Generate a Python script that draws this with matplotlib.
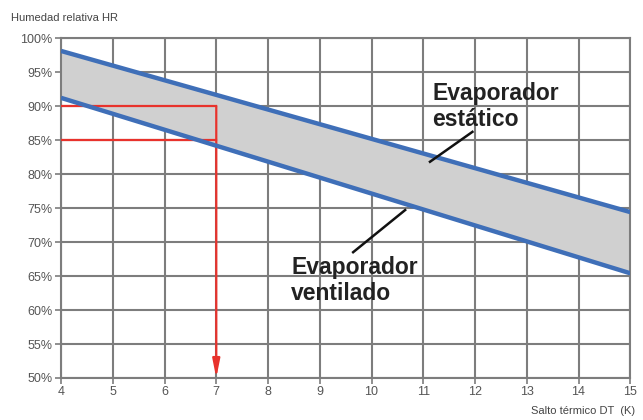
import matplotlib
matplotlib.use("Agg")
import matplotlib.pyplot as plt
import numpy as np

plt.rcParams['font.family'] = ['Liberation Sans', 'DejaVu Sans']

x_ticks = [4, 5, 6, 7, 8, 9, 10, 11, 12, 13, 14, 15]
y_ticks = [50, 55, 60, 65, 70, 75, 80, 85, 90, 95, 100]
y_labels = [f"{v}%" for v in y_ticks]

# Line endpoints (DT, HR%)
dt_ends = [4, 15]
hr_estatico = [98.1, 74.4]
hr_ventilado = [91.2, 65.4]

# Example reading
ex_dt = 7
ex_hr_high = 90
ex_hr_low = 85

fig = plt.figure(figsize=(6.43, 4.2), dpi=100)
ax = fig.add_axes([0.0949, 0.1, 0.8853, 0.8095])
ax.set_xlim(4, 15)
ax.set_ylim(50, 100)

grid_c = '#7d7d7d'
ax.set_xticks(x_ticks)
ax.set_yticks(y_ticks)
ax.set_xticklabels([str(v) for v in x_ticks], fontsize=9, color='#555555')
ax.set_yticklabels(y_labels, fontsize=9, color='#555555')
ax.tick_params(axis='both', length=4, width=1.2, color=grid_c, pad=2)
ax.grid(True, color=grid_c, linewidth=1.5)
ax.set_axisbelow(True)
for s in ax.spines.values():
    s.set_color(grid_c)
    s.set_linewidth(1.5)

ax.fill_between(dt_ends, hr_ventilado, hr_estatico, color='#d0d0d0', zorder=2)
ax.plot(dt_ends, hr_estatico, color='#3f6fb8', linewidth=3.2, zorder=4, solid_capstyle='butt')
ax.plot(dt_ends, hr_ventilado, color='#3f6fb8', linewidth=3.2, zorder=4, solid_capstyle='butt')

red = '#e8322c'
ax.plot([4, ex_dt], [ex_hr_high, ex_hr_high], color=red, linewidth=1.6, zorder=3)
ax.plot([4, ex_dt], [ex_hr_low, ex_hr_low], color=red, linewidth=1.6, zorder=3)
ax.annotate('', xy=(ex_dt, 50), xytext=(ex_dt, ex_hr_high),
            arrowprops=dict(arrowstyle='-|>,head_length=1.1,head_width=0.22',
                            color=red, lw=1.6, shrinkA=0, shrinkB=0), zorder=3)

# Annotations
ax.plot([11.13, 11.95], [81.8, 86.2], color='#111111', lw=1.8, zorder=5)
ax.text(11.17, 93.6, 'Evaporador\nestático', fontsize=16.5, fontweight='bold',
        color='#222222', ha='left', va='top', linespacing=1.2, zorder=5)
ax.plot([10.65, 9.645], [74.7, 68.5], color='#111111', lw=1.8, zorder=5)
ax.text(8.45, 68.0, 'Evaporador\nventilado', fontsize=16.5, fontweight='bold',
        color='#222222', ha='left', va='top', linespacing=1.2, zorder=5)

fig.text(0.017, 0.945, 'Humedad relativa HR', fontsize=8, color='#444444', ha='left', va='bottom')
fig.text(0.988, 0.01, 'Salto térmico DT  (K)', fontsize=8, color='#444444', ha='right', va='bottom')

fig.savefig('out.png', dpi=100)
